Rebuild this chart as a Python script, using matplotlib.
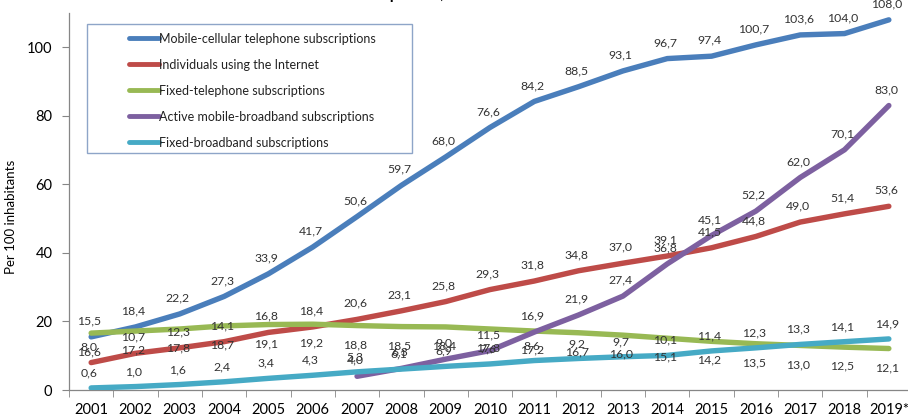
import matplotlib
matplotlib.use("Agg")
import matplotlib.pyplot as plt
from matplotlib.patches import Rectangle
import numpy as np

years = ["2001", "2002", "2003", "2004", "2005", "2006", "2007", "2008", "2009", "2010",
         "2011", "2012", "2013", "2014", "2015", "2016", "2017", "2018", "2019*"]

mobile_cellular = [15.5, 18.4, 22.2, 27.3, 33.9, 41.7, 50.6, 59.7, 68.0, 76.6,
                   84.2, 88.5, 93.1, 96.7, 97.4, 100.7, 103.6, 104.0, 108.0]
internet = [8.0, 10.7, 12.3, 14.1, 16.8, 18.4, 20.6, 23.1, 25.8, 29.3,
            31.8, 34.8, 37.0, 39.1, 41.5, 44.8, 49.0, 51.4, 53.6]
fixed_tel = [16.6, 17.2, 17.8, 18.7, 19.1, 19.2, 18.8, 18.5, 18.4, 17.8,
             17.2, 16.7, 16.0, 15.1, 14.2, 13.5, 13.0, 12.5, 12.1]
mobile_bb = [None, None, None, None, None, None, 4.0, 6.3, 9.0, 11.5,
             16.9, 21.9, 27.4, 36.8, 45.1, 52.2, 62.0, 70.1, 83.0]
fixed_bb = [0.6, 1.0, 1.6, 2.4, 3.4, 4.3, 5.3, 6.1, 6.9, 7.6,
            8.6, 9.2, 9.7, 10.1, 11.4, 12.3, 13.3, 14.1, 14.9]

series = [
    ("Mobile-cellular telephone subscriptions", mobile_cellular, "#4a7ebb", 16),
    ("Individuals using the Internet", internet, "#be4b48", 16),
    ("Fixed-telephone subscriptions", fixed_tel, "#98b954", -19),
    ("Active mobile-broadband subscriptions", mobile_bb, "#7d60a0", 16),
    ("Fixed-broadband subscriptions", fixed_bb, "#46aac5", 15),
]

plt.rcParams['font.family'] = ['Lato', 'DejaVu Sans']

W, H = 908, 419
fig = plt.figure(figsize=(W / 100, H / 100), dpi=100)
ax = fig.add_axes([69 / W, 29 / H, (911 - 69) / W, (390 - 13) / H])

x = np.arange(len(years))
handles = []
for name, vals, color, off in series:
    v = np.array([np.nan if a is None else a for a in vals], dtype=float)
    ln, = ax.plot(x, v, color=color, lw=3.9, solid_capstyle='round',
                  solid_joinstyle='round', label=name, zorder=3)
    handles.append(ln)
    for xi, yi in zip(x, v):
        if np.isnan(yi):
            continue
        ax.annotate(f"{yi:.1f}".replace(".", ","), (xi, yi),
                    xytext=(-1.5, off * 0.72), textcoords='offset points',
                    ha='center', va='center', fontsize=8.8, color='#333333',
                    zorder=4)

ax.set_xlim(-0.5, len(years) - 0.5)
ax.set_ylim(0, 110)
ax.set_yticks([0, 20, 40, 60, 80, 100])
ax.set_xticks(x)
ax.set_xticklabels(years)
ax.set_xticks(np.arange(-0.5, len(years), 1.0), minor=True)
ax.tick_params(axis='x', which='major', length=0, pad=9, labelsize=10.5, colors='#000000')
ax.tick_params(axis='x', which='minor', length=5, color='#868686', direction='out')
ax.tick_params(axis='y', length=5, color='#868686', pad=7, labelsize=10.5,
               direction='out', labelcolor='#000000')
for s in ['top', 'right']:
    ax.spines[s].set_visible(False)
for s in ['left', 'bottom']:
    ax.spines[s].set_color('#868686')
    ax.spines[s].set_linewidth(0.9)
ax.set_ylabel("Per 100 inhabitants", fontsize=9.5, color='#000000')
ax.yaxis.set_label_coords(-(69 - 17) / (911 - 69), (390 - 217) / (390 - 13))

# legend
leg = fig.legend(handles=handles, loc='upper left',
                 bbox_to_anchor=(120 / W, 1 - 24 / H), frameon=False,
                 fontsize=9.0, handlelength=2.4, handletextpad=0.0,
                 labelspacing=1.12, borderpad=0.2)
for t in leg.get_texts():
    t.set_color('#222222')
for lh in leg.legend_handles:
    lh.set_linewidth(3.5)
    lh.set_solid_capstyle('round')
fig.patches.append(Rectangle((87 / W, 1 - 153 / H), (412 - 87) / W, (153 - 24) / H,
                             transform=fig.transFigure, fill=False,
                             edgecolor='#8ea5c8', linewidth=1.0))

fig.text(0.44, 1 + 0.5 / H, "Global ICT developments, 2001-2019*", ha='center',
         va='baseline', fontsize=11, fontweight='bold', color='#000000')

fig.savefig("out.png", dpi=100)
